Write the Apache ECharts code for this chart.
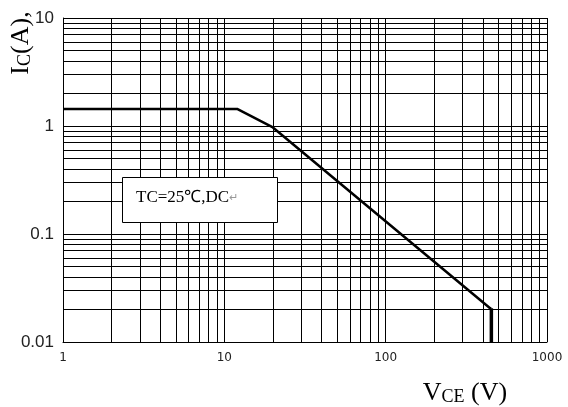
<!DOCTYPE html>
<html>
<head>
<meta charset="utf-8">
<script src="https://cdn.jsdelivr.net/npm/echarts@6/dist/echarts.min.js"></script>
<style>
html,body{margin:0;padding:0;background:#fff;}
#chart{width:568px;height:407px;}
</style>
</head>
<body>
<div id="chart"></div>
<script>
// ---- data ----
var curveV = [1, 12, 20, 444, 452];
var curveI = [1.44, 1.44, 0.97, 0.0205, 0.0205];
var tailV = [452, 452];
var tailI = [0.0205, 0.01];
var xMinorGrid = [2,3,4,5,6,7,8,9,20,30,40,50,60,70,80,90,200,300,400,500,600,700,800,900];
var yMinorGrid = [0.02,0.03,0.04,0.05,0.06,0.07,0.08,0.09,0.2,0.3,0.4,0.5,0.6,0.7,0.8,0.9,2,3,4,5,6,7,8,9];
var xTicks = [1, 10, 100, 1000];
var yTicks = [0.01, 0.1, 1, 10];
var noteText = 'TC=25\u2103,DC';

var chart = echarts.init(document.getElementById('chart'));
function pairs(a, b){ return a.map(function(v,i){ return [v, b[i]]; }); }
var gridLines = xMinorGrid.map(function(v){ return {xAxis: v}; })
  .concat(yMinorGrid.map(function(v){ return {yAxis: v}; }));

chart.setOption({
  animation: false,
  grid: {left: 63, right: 21, top: 18, bottom: 65, containLabel: false},
  xAxis: {
    type: 'log', logBase: 10, min: xTicks[0], max: xTicks[xTicks.length-1],
    axisLine: {show: true, lineStyle: {color: '#000', width: 1}},
    axisTick: {show: false},
    splitLine: {show: true, lineStyle: {color: '#000', width: 1}},
    axisLabel: {margin: 10, color: '#222', fontFamily: 'DejaVu Sans', fontSize: 12,
      formatter: function(v){ return String(v); }}
  },
  yAxis: {
    type: 'log', logBase: 10, min: yTicks[0], max: yTicks[yTicks.length-1],
    axisLine: {show: true, lineStyle: {color: '#000', width: 1}},
    axisTick: {show: false},
    splitLine: {show: true, lineStyle: {color: '#000', width: 1}},
    axisLabel: {margin: 9, color: '#222', fontFamily: 'Liberation Sans', fontSize: 17,
      formatter: function(v){ return String(v); }}
  },
  series: [
    {
      type: 'line', data: [], z: 1, silent: true,
      markLine: {
        silent: true, symbol: ['none','none'], label: {show: false},
        lineStyle: {color: '#000', width: 1, type: 'solid'},
        emphasis: {disabled: true},
        data: gridLines
      }
    },
    {
      type: 'line', data: pairs(curveV, curveI), z: 5,
      symbol: 'none', lineStyle: {color: '#000', width: 2.5}
    },
    {
      type: 'line', data: pairs(tailV, tailI), z: 5,
      symbol: 'none', lineStyle: {color: '#000', width: 3.5}
    }
  ],
  graphic: [
    {type: 'rect', z: 100, zlevel: 1, shape: {x: 122.5, y: 177.5, width: 155, height: 45},
     style: {fill: '#ffffff', stroke: '#000', lineWidth: 1}},
    {type: 'text', z: 101, zlevel: 1, x: 136, y: 198,
     style: {text: '{t|' + noteText + '}{r|\u21b5}', verticalAlign: 'middle', align: 'left',
       rich: {t: {fontFamily: 'Liberation Serif', fontSize: 17, fill: '#000', color: '#000'},
              r: {fontFamily: 'DejaVu Sans', fontSize: 11, fill: '#999', color: '#999'}}}},
    {
      type: 'text', x: 19, y: 43, rotation: Math.PI/2, z: 100,
      style: {text: '{a|I}{b|C}{a|(A),}', align: 'center', verticalAlign: 'middle',
        rich: {a: {fontFamily: 'Liberation Serif', fontSize: 26, fill: '#000', color: '#000', verticalAlign: 'bottom', lineHeight: 30},
               b: {fontFamily: 'Liberation Serif', fontSize: 18, fill: '#000', color: '#000', verticalAlign: 'bottom', lineHeight: 24}}}
    },
    {
      type: 'text', x: 465, y: 391, z: 100,
      style: {text: '{a|V}{b|CE}{a| (V)}', align: 'center', verticalAlign: 'middle',
        rich: {a: {fontFamily: 'Liberation Serif', fontSize: 26, fill: '#000', color: '#000', verticalAlign: 'bottom', lineHeight: 30},
               b: {fontFamily: 'Liberation Serif', fontSize: 18, fill: '#000', color: '#000', verticalAlign: 'bottom', lineHeight: 24}}}
    }
  ]
});
</script>
</body>
</html>
